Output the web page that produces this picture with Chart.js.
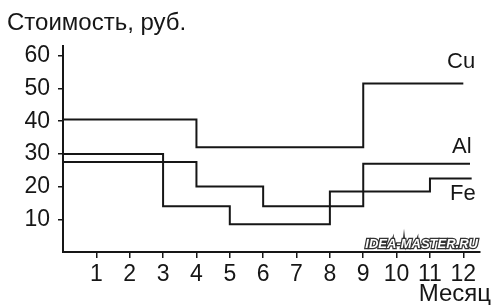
<!DOCTYPE html>
<html>
<head>
<meta charset="utf-8">
<script src="https://cdn.jsdelivr.net/npm/chart.js@4"></script>
<style>
  html, body { margin: 0; padding: 0; background: #fff; }
  #wrap { width: 500px; height: 305px; }
</style>
</head>
<body>
<div id="wrap"><canvas id="priceChart"></canvas></div>
<script>
// Month ticks on the x axis and price ticks on the y axis
const monthTicks = [1, 2, 3, 4, 5, 6, 7, 8, 9, 10, 11, 12];
const priceTicks = [10, 20, 30, 40, 50, 60];

// Step points: month where the price changes and the new price
const cuMonths = [0, 4, 9, 12];
const cuPrices = [40.5, 32, 51.5, 51.5];

const alMonths = [0, 4, 6, 9, 12.2];
const alPrices = [27.5, 20, 14, 27, 27];

const feMonths = [0, 3, 5, 8, 11, 12.25];
const fePrices = [30, 14, 8.5, 18.5, 22.5, 22.5];

const FONT = '"Liberation Sans", Arial, sans-serif';
const INK = "#161616";

function toPoints(xs, ys) {
  return xs.map((x, i) => ({ x, y: ys[i] }));
}

function series(label, xs, ys) {
  return {
    label,
    data: toPoints(xs, ys),
    stepped: true,
    borderColor: INK,
    borderWidth: 2,
    pointRadius: 0,
    fill: false
  };
}

// Free texts: axis titles, series names, watermark
const textPlugin = {
  id: "texts",
  afterDraw(chart) {
    const ctx = chart.ctx;
    ctx.save();
    ctx.fillStyle = INK;
    ctx.textBaseline = "alphabetic";

    ctx.font = `24px ${FONT}`;
    ctx.textAlign = "left";
    ctx.fillText("Стоимость, руб.", 7, 30);

    ctx.textAlign = "right";
    ctx.fillText("Месяц", 491, 301);

    ctx.font = `22px ${FONT}`;
    ctx.textAlign = "left";
    ctx.fillText("Cu", 447, 68);
    ctx.fillText("Al", 452, 153);
    ctx.fillText("Fe", 450, 200);

    // watermark
    ctx.font = `italic bold 13px ${FONT}`;
    ctx.textAlign = "right";
    ctx.lineWidth = 2.5;
    ctx.strokeStyle = "#333";
    ctx.strokeText("IDEA-MASTER.RU", 478, 248);
    ctx.fillStyle = "#fff";
    ctx.fillText("IDEA-MASTER.RU", 478, 248);
    ctx.restore();
  }
};

const axisCommon = {
  grid: { drawOnChartArea: false, drawTicks: true, tickLength: 5, color: INK, lineWidth: 1.5 },
  border: { display: true, color: INK, width: 2 },
  ticks: { color: INK, font: { family: FONT, size: 23 } }
};

new Chart(document.getElementById("priceChart"), {
  type: "line",
  data: {
    datasets: [
      series("Cu", cuMonths, cuPrices),
      series("Al", alMonths, alPrices),
      series("Fe", feMonths, fePrices)
    ]
  },
  options: {
    responsive: true,
    maintainAspectRatio: false,
    animation: false,
    layout: { padding: { top: 46, right: 20, left: 0, bottom: 0 } },
    plugins: {
      legend: { display: false },
      tooltip: { enabled: false }
    },
    scales: {
      x: {
        type: "linear",
        min: 0,
        max: 12.5,
        ...axisCommon,
        grid: { ...axisCommon.grid, tickLength: 6 },
        ticks: { ...axisCommon.ticks, padding: 3, maxRotation: 0, autoSkip: false },
        afterBuildTicks: scale => { scale.ticks = monthTicks.map(v => ({ value: v })); },
        afterFit: scale => { scale.height = 53; }
      },
      y: {
        type: "linear",
        min: 0,
        max: 63,
        ...axisCommon,
        ticks: { ...axisCommon.ticks, padding: 8 },
        afterBuildTicks: scale => { scale.ticks = priceTicks.map(v => ({ value: v })); },
        afterFit: scale => { scale.width = 63; }
      }
    }
  },
  plugins: [textPlugin]
});
</script>
</body>
</html>
